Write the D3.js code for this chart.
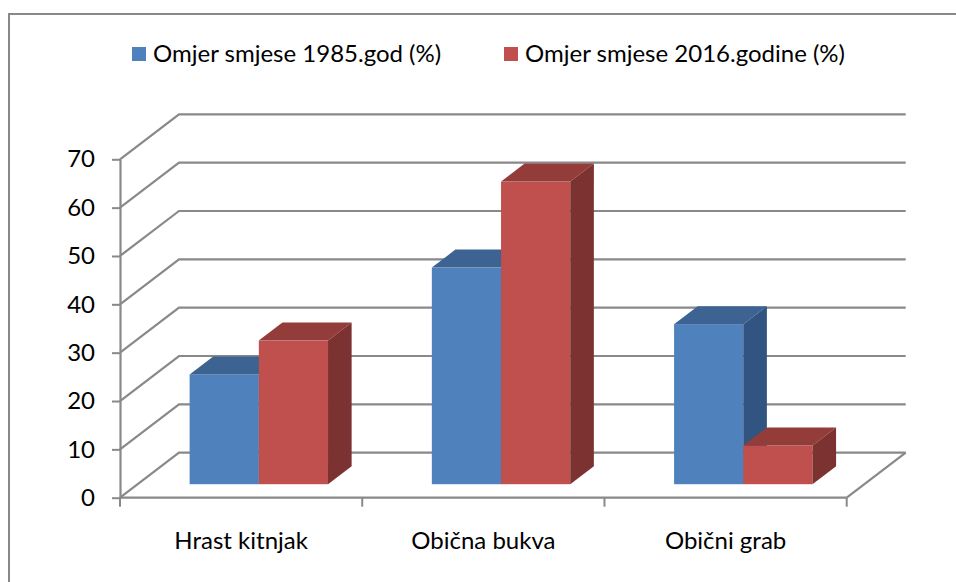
<!DOCTYPE html>
<html>
<head>
<meta charset="utf-8">
<script src="https://cdn.jsdelivr.net/npm/d3@7"></script>
<style>
    html, body { margin: 0; padding: 0; background: #ffffff; }
    #chart { width: 956px; height: 582px; }
    text { font-family: Lato, "Open Sans", sans-serif; fill: #000000; }
</style>
</head>
<body>
<div id="chart"></div>
<script>
// DATA
const categories = ["Hrast kitnjak", "Obična bukva", "Obični grab"];
const seriesNames = ["Omjer smjese 1985.god (%)", "Omjer smjese 2016.godine (%)"];
const values1985 = [22.7, 44.8, 33.1];
const values2016 = [29.7, 62.6, 8.0];
const yTicks = [0, 10, 20, 30, 40, 50, 60, 70];

// colours per series: front, top, side
const seriesColors = [
    { front: "#4F81BD", top: "#3C6391", side: "#325480" },
    { front: "#C0504D", top: "#943C3A", side: "#7B3230" }
];

class Bar3DBuilder {
    constructor(container) {
        this.container = container;
        this.width = 956;
        this.height = 582;
        // front plane of the plot
        this.plot = { left: 120, right: 846.7, top: 159.3, bottom: 497.7 };
        // depth offset of the back wall
        this.depth = { dx: 59, dy: -45 };
        // where the bars sit in depth (fraction of the floor)
        this.barDepth = [0.3, 0.7];
        this.gridColor = "#898989";
        this.fontSize = 24;

        this.svg = this.container.append("svg")
            .attr("width", this.width)
            .attr("height", this.height)
            .attr("viewBox", `0 0 ${this.width} ${this.height}`);

        this.setScales();
        this.drawBorder();
        this.drawWalls();
        this.drawBars();
        this.drawAxes();
        this.drawLegend();
    }

    // SCALES
    setScales() {
        this.xScale = d3.scaleBand()
            .domain(categories)
            .range([this.plot.left, this.plot.right])
            .paddingInner(0)
            .paddingOuter(0);
        // gap width 150% -> outer padding .75 of a step on each side
        this.seriesScale = d3.scaleBand()
            .domain(d3.range(seriesNames.length))
            .range([0, this.xScale.bandwidth()])
            .paddingInner(0)
            .paddingOuter(0.75);
        this.yScale = d3.scaleLinear()
            .domain([0, 70])
            .range([this.plot.bottom, this.plot.top]);
    }

    // OUTER CHART BORDER (only top and left are inside the picture)
    drawBorder() {
        this.svg.append("rect")
            .attr("x", 9)
            .attr("y", 14)
            .attr("width", 960)
            .attr("height", 600)
            .attr("fill", "none")
            .attr("stroke", this.gridColor)
            .attr("stroke-width", 2);
    }

    // GRIDLINES ON SIDE WALL, BACK WALL AND FLOOR
    drawWalls() {
        const g = this.svg.append("g")
            .attr("class", "walls")
            .attr("stroke", this.gridColor)
            .attr("stroke-width", 2.2)
            .attr("fill", "none");
        const dx = this.depth.dx, dy = this.depth.dy;
        const left = this.plot.left, right = this.plot.right;

        yTicks.forEach(t => {
            const y = this.yScale(t);
            g.append("path")
                .attr("d", `M${left},${y} L${left + dx},${y + dy} L${right + dx},${y + dy}`);
        });

        // floor front edge and right edge
        const y0 = this.yScale(0);
        g.append("path")
            .attr("d", `M${left},${y0} L${right},${y0} L${right + dx},${y0 + dy}`);
    }

    // 3D BARS
    drawBars() {
        const allValues = [values1985, values2016];
        const dx = this.depth.dx, dy = this.depth.dy;
        const [d0, d1] = this.barDepth;
        const tdx = (d1 - d0) * dx, tdy = (d1 - d0) * dy;
        const w = this.seriesScale.bandwidth();
        const y0 = this.yScale(0) + d0 * dy;

        categories.forEach((cat, ci) => {
            const g = this.svg.append("g").attr("class", "category");
            allValues.forEach((vals, si) => {
                const col = seriesColors[si];
                const x = this.xScale(cat) + this.seriesScale(si) + d0 * dx;
                const yTop = this.yScale(vals[ci]) + d0 * dy;

                g.append("rect")
                    .attr("class", "bar")
                    .attr("x", x)
                    .attr("y", yTop)
                    .attr("width", w)
                    .attr("height", y0 - yTop)
                    .attr("fill", col.front);

                g.append("polygon")
                    .attr("points", [[x, yTop], [x + w, yTop], [x + w + tdx, yTop + tdy], [x + tdx, yTop + tdy]].join(" "))
                    .attr("fill", col.top);

                g.append("polygon")
                    .attr("points", [[x + w, yTop], [x + w + tdx, yTop + tdy], [x + w + tdx, y0 + tdy], [x + w, y0]].join(" "))
                    .attr("fill", col.side);
            });
        });
    }

    // AXES
    drawAxes() {
        const yAxis = d3.axisLeft(this.yScale)
            .tickValues(yTicks)
            .tickSize(8)
            .tickPadding(17)
            .tickSizeOuter(0);
        const gy = this.svg.append("g")
            .attr("class", "y-axis")
            .attr("transform", `translate(${this.plot.left},0)`)
            .call(yAxis);
        gy.select(".domain").attr("stroke", this.gridColor).attr("stroke-width", 2.2);
        gy.selectAll(".tick line").attr("stroke", this.gridColor).attr("stroke-width", 2);
        gy.selectAll("text")
            .attr("font-size", this.fontSize)
            .attr("font-family", "Lato, sans-serif")
            .attr("fill", "#000");

        const xAxis = d3.axisBottom(this.xScale)
            .tickSize(0)
            .tickPadding(34)
            .tickSizeOuter(0);
        const gx = this.svg.append("g")
            .attr("class", "x-axis")
            .attr("transform", `translate(0,${this.plot.bottom})`)
            .call(xAxis);
        gx.select(".domain").remove();
        gx.selectAll("text")
            .attr("font-size", this.fontSize)
            .attr("font-family", "Lato, sans-serif")
            .attr("fill", "#000");

        // category boundary ticks
        const bounds = categories.map(c => this.xScale(c)).concat([this.plot.right]);
        gx.selectAll(".bound")
            .data(bounds)
            .enter()
            .append("line")
            .attr("class", "bound")
            .attr("x1", d => d)
            .attr("x2", d => d)
            .attr("y1", 0)
            .attr("y2", 9)
            .attr("stroke", this.gridColor)
            .attr("stroke-width", 2);
    }

    // LEGEND
    drawLegend() {
        const legendX = [132, 504];
        const g = this.svg.append("g").attr("class", "legend");
        seriesNames.forEach((name, i) => {
            g.append("rect")
                .attr("x", legendX[i])
                .attr("y", 47)
                .attr("width", 14)
                .attr("height", 14)
                .attr("fill", seriesColors[i].front);
            g.append("text")
                .attr("x", legendX[i] + 21)
                .attr("y", 61.5)
                .attr("font-size", this.fontSize)
                .text(name);
        });
    }
}

new Bar3DBuilder(d3.select("#chart"));
</script>
</body>
</html>
